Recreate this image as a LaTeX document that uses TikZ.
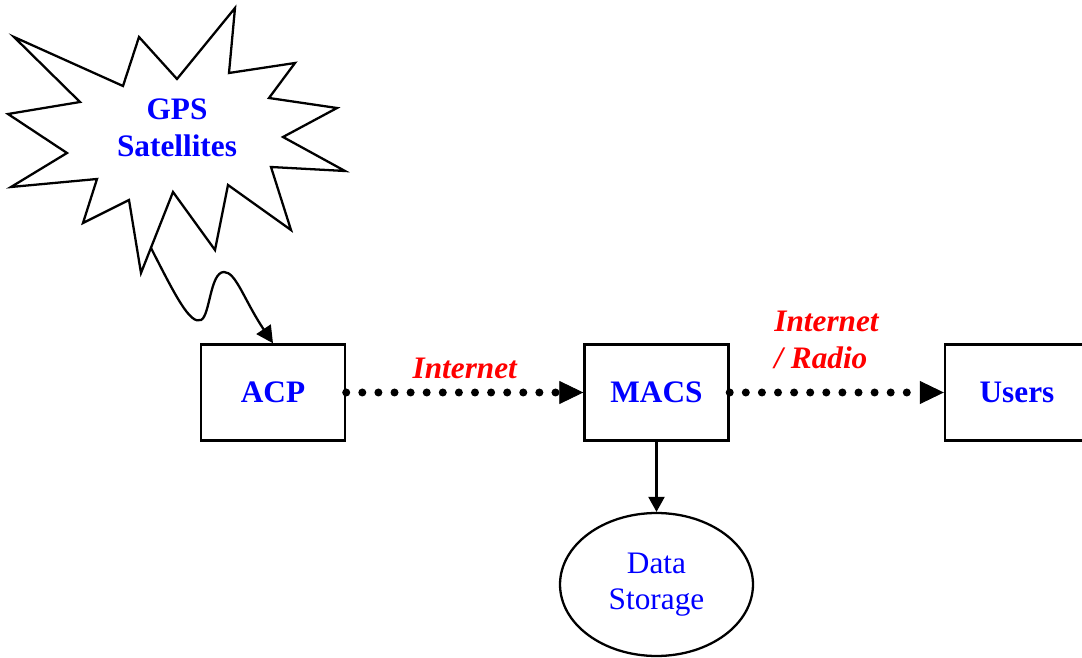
\documentclass[tikz,border=0pt]{standalone}
\usepackage{fontspec}
\setmainfont{Liberation Serif}
\usetikzlibrary{arrows.meta,shapes.geometric}
\definecolor{NodeClr}{rgb}{0,0,1}
\definecolor{LinkClr}{rgb}{1,0,0}
\tikzset{
  unitbox/.style={draw,line width=1.4pt,minimum width=2.88cm,minimum height=1.92cm,
    font=\fontsize{17.8}{20.8}\selectfont\bfseries,text=NodeClr},
  storebox/.style={draw,ellipse,line width=1.3pt,minimum width=3.86cm,minimum height=2.86cm,
    inner sep=0pt,align=center,font=\fontsize{17.8}{20.8}\selectfont,text=NodeClr},
  linklbl/.style={font=\fontsize{17.8}{20.8}\selectfont\bfseries\itshape,text=LinkClr,inner sep=0pt},
  dotlink/.style={line width=0.16cm,line cap=round,dash pattern=on 0pt off 0.322cm,
    -{Triangle[length=0.48cm,width=0.46cm,line width=0.5pt]}},
  solidlink/.style={line width=1.3pt,-{Triangle[length=0.3cm,width=0.32cm]}},
  burst/.style={draw,line width=1.3pt,line join=miter},
}

\begin{document}
\begin{tikzpicture}[x=0.02cm,y=-0.02cm]
\useasboundingbox (0,0) rectangle (1082,658);
\clip (0,0) rectangle (1082,658);

\path[burst] (14,37) -- (123,86) -- (139,37) -- (177,79) -- (235,8) -- (229,73)
  -- (295,63) -- (269,98) -- (337,108) -- (283,137) -- (345,171) -- (271,167)
  -- (291,230) -- (228,185) -- (215,250) -- (173,192) -- (141,273) -- (129,200)
  -- (83,223) -- (97,179) -- (11,187) -- (67,153) -- (8,114) -- (80,102) -- cycle;
\node[font=\fontsize{17.8}{20.8}\selectfont\bfseries,text=NodeClr,align=center] (gps) at (177,128) {GPS\\Satellites};
\coordinate (gpstail) at (151,248);

\node[unitbox] (acp) at (273,392.5) {ACP};
\node[unitbox] (macs) at (656.5,392.5) {MACS};
\node[unitbox] (users) at (1017,392.5) {Users};
\node[storebox] (store) at (656.5,584.5) {Data\\Storage};

\draw[solidlink,-{Triangle[length=0.34cm,width=0.34cm]}] (gpstail) .. controls (175,295) and (190,325) .. (201,320)
  .. controls (210,316) and (210,272) .. (224,272) .. controls (236,272) and (244,300) .. (acp.north);
\draw[dotlink] (acp) -- (macs) node[linklbl,midway,above=0.2cm] {Internet};
\draw[dotlink] (macs) -- (users) node[linklbl,pos=0.19,anchor=south west,yshift=0.4cm,align=left] {Internet\\/ Radio};
\draw[solidlink] (macs) -- (store);

\end{tikzpicture}
\end{document}
